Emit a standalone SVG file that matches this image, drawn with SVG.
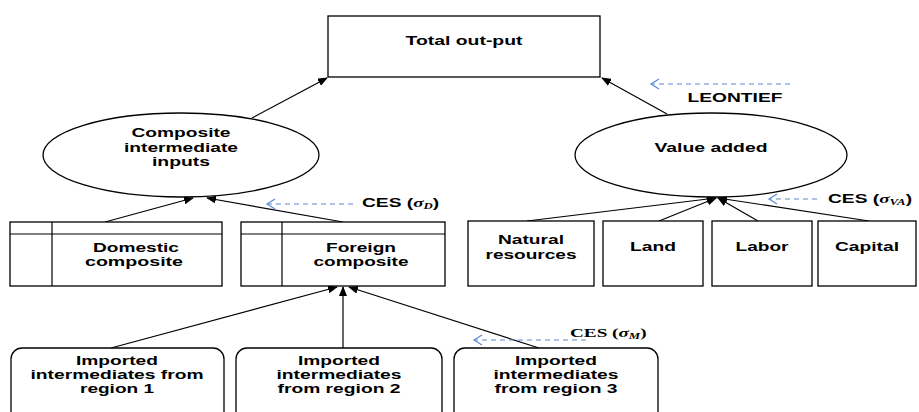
<svg xmlns="http://www.w3.org/2000/svg" width="919" height="412" viewBox="0 0 919 412">
<defs>
<style>
.bx{fill:#fff;stroke:#000;stroke-width:1.3}
.ln{fill:none;stroke:#000;stroke-width:1.2}
.t{font-family:"Liberation Sans",Arial,sans-serif;font-weight:bold;font-size:12px;fill:#000;text-anchor:middle}
.ces{font-family:"Liberation Sans",Arial,sans-serif;font-weight:bold;font-size:12px;fill:#000}
.cesm{font-family:"Liberation Serif","Times New Roman",serif;font-weight:bold;font-size:12px;fill:#000}
.sig{font-family:"Liberation Serif","Times New Roman",serif;font-style:italic;font-weight:bold}
.sub{font-family:"Liberation Serif","Times New Roman",serif;font-style:italic;font-weight:bold;font-size:8px}
.ar{fill:none;stroke:#000;stroke-width:1.2;marker-end:url(#ah)}
.da{fill:none;stroke:#5b8bd0;stroke-width:1.2;stroke-dasharray:5 4;marker-end:url(#bh)}
</style>
<marker id="ah" markerUnits="userSpaceOnUse" markerWidth="10" markerHeight="8" refX="9" refY="4" orient="auto">
<path d="M0,0 L10,4 L0,8 z" fill="#000"/>
</marker>
<marker id="bh" markerUnits="userSpaceOnUse" markerWidth="11" markerHeight="12" refX="9" refY="6" orient="auto">
<path d="M1,1 L9,6 L1,11" fill="none" stroke="#5b8bd0" stroke-width="1.2"/>
</marker>
</defs>

<g id="connectors">
<line class="ar" x1="252" y1="118" x2="327" y2="78"/>
<line class="ar" x1="667" y1="114" x2="602" y2="78"/>
<line class="ar" x1="105" y1="222" x2="193" y2="198"/>
<line class="ar" x1="343" y1="222" x2="207" y2="198"/>
<line class="ar" x1="527" y1="221" x2="716" y2="198"/>
<line class="ar" x1="659" y1="221" x2="716" y2="198"/>
<line class="ar" x1="758" y1="221" x2="718" y2="198"/>
<line class="ar" x1="869" y1="221" x2="718" y2="198"/>
<line class="ar" x1="111" y1="348" x2="337" y2="287"/>
<line class="ar" x1="343" y1="348" x2="343" y2="287"/>
<line class="ar" x1="539" y1="348" x2="349" y2="287"/>
<line class="da" x1="790" y1="84" x2="651" y2="84"/>
<line class="da" x1="353" y1="204" x2="267" y2="204"/>
<line class="da" x1="817" y1="199" x2="769" y2="199"/>
<line class="da" x1="586" y1="340" x2="474" y2="340"/>
</g>

<g id="total-output">
<rect class="bx" x="328" y="16" width="272" height="61"/>
<text class="t" x="464" y="45" textLength="117" lengthAdjust="spacingAndGlyphs">Total out-put</text>
</g>

<g id="leontief">
<text class="t" x="735" y="102" textLength="95" lengthAdjust="spacingAndGlyphs">LEONTIEF</text>
</g>

<g id="composite-intermediate">
<ellipse class="bx" cx="181" cy="155" rx="138" ry="42"/>
<text class="t" x="181" y="137" textLength="99" lengthAdjust="spacingAndGlyphs">Composite</text>
<text class="t" x="181" y="152" textLength="114" lengthAdjust="spacingAndGlyphs">intermediate</text>
<text class="t" x="181" y="166" textLength="58" lengthAdjust="spacingAndGlyphs">inputs</text>
</g>

<g id="value-added">
<ellipse class="bx" cx="711" cy="155" rx="136" ry="42"/>
<text class="t" x="711" y="152" textLength="113" lengthAdjust="spacingAndGlyphs">Value added</text>
</g>

<g id="ces-d">
<text class="ces" transform="translate(362,207) scale(1.6,1)">CES (<tspan class="sig">σ</tspan><tspan class="sub" dy="2">D</tspan><tspan dy="-2">)</tspan></text>
</g>

<g id="ces-va">
<text class="ces" transform="translate(828,203) scale(1.6,1)">CES (<tspan class="sig">σ</tspan><tspan class="sub" dy="2">VA</tspan><tspan dy="-2">)</tspan></text>
</g>

<g id="ces-m">
<text class="cesm" transform="translate(570,337) scale(1.6,1)">CES (<tspan class="sig">σ</tspan><tspan class="sub" dy="2">M</tspan><tspan dy="-2">)</tspan></text>
</g>

<g id="domestic-composite">
<rect class="bx" x="10" y="222" width="212" height="64"/>
<line class="ln" x1="10" y1="234" x2="222" y2="234"/>
<line class="ln" x1="52" y1="222" x2="52" y2="286"/>
<text class="t" x="136" y="252" textLength="86" lengthAdjust="spacingAndGlyphs">Domestic</text>
<text class="t" x="134" y="266" textLength="98" lengthAdjust="spacingAndGlyphs">composite</text>
</g>

<g id="foreign-composite">
<rect class="bx" x="241" y="222" width="204" height="64"/>
<line class="ln" x1="241" y1="234" x2="445" y2="234"/>
<line class="ln" x1="282" y1="222" x2="282" y2="286"/>
<text class="t" x="361" y="252" textLength="70" lengthAdjust="spacingAndGlyphs">Foreign</text>
<text class="t" x="361" y="266" textLength="95" lengthAdjust="spacingAndGlyphs">composite</text>
</g>

<g id="natural-resources">
<rect class="bx" x="468" y="221" width="126" height="65"/>
<text class="t" x="531" y="244" textLength="66" lengthAdjust="spacingAndGlyphs">Natural</text>
<text class="t" x="531" y="259" textLength="91" lengthAdjust="spacingAndGlyphs">resources</text>
</g>

<g id="land">
<rect class="bx" x="603" y="221" width="100" height="65"/>
<text class="t" x="653" y="251" textLength="46" lengthAdjust="spacingAndGlyphs">Land</text>
</g>

<g id="labor">
<rect class="bx" x="712" y="221" width="100" height="65"/>
<text class="t" x="762" y="251" textLength="53" lengthAdjust="spacingAndGlyphs">Labor</text>
</g>

<g id="capital">
<rect class="bx" x="818" y="221" width="98" height="65"/>
<text class="t" x="867" y="251" textLength="64" lengthAdjust="spacingAndGlyphs">Capital</text>
</g>

<g id="region-1">
<rect class="bx" x="11" y="348" width="213" height="80" rx="11"/>
<text class="t" x="117" y="365" textLength="82" lengthAdjust="spacingAndGlyphs">Imported</text>
<text class="t" x="117" y="379" textLength="173" lengthAdjust="spacingAndGlyphs">intermediates from</text>
<text class="t" x="117" y="393" textLength="74" lengthAdjust="spacingAndGlyphs">region 1</text>
</g>

<g id="region-2">
<rect class="bx" x="236" y="348" width="206" height="80" rx="11"/>
<text class="t" x="339" y="365" textLength="82" lengthAdjust="spacingAndGlyphs">Imported</text>
<text class="t" x="339" y="379" textLength="125" lengthAdjust="spacingAndGlyphs">intermediates</text>
<text class="t" x="339" y="393" textLength="123" lengthAdjust="spacingAndGlyphs">from region 2</text>
</g>

<g id="region-3">
<rect class="bx" x="454" y="348" width="204" height="80" rx="11"/>
<text class="t" x="556" y="365" textLength="82" lengthAdjust="spacingAndGlyphs">Imported</text>
<text class="t" x="556" y="379" textLength="125" lengthAdjust="spacingAndGlyphs">intermediates</text>
<text class="t" x="556" y="393" textLength="123" lengthAdjust="spacingAndGlyphs">from region 3</text>
</g>
</svg>
